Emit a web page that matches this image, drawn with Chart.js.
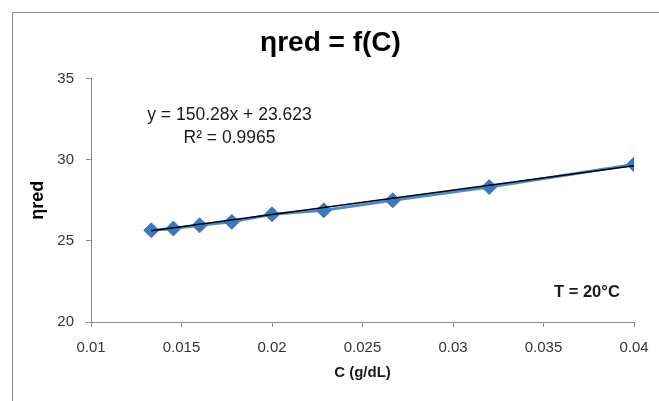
<!DOCTYPE html>
<html lang="en">
<head>
    <meta charset="UTF-8">
    <title>ηred = f(C)</title>
    <script src="https://cdn.jsdelivr.net/npm/chart.js"></script>
    <style>
        html, body {
            margin: 0;
            padding: 0;
            background: #ffffff;
            overflow: hidden;
        }
        #frame {
            position: absolute;
            left: 12px;
            top: 12px;
            width: 660px;
            height: 400px;
            border: 1px solid #8c8c8c;
        }
        #wrap {
            position: absolute;
            left: 0;
            top: 0;
            width: 659px;
            height: 401px;
        }
    </style>
</head>
<body>
<div id="frame"></div>
<div id="wrap"><canvas id="chart" width="659" height="401"></canvas></div>

<script>
    // Measured values (concentration in g/dL, reduced viscosity)
    const concentration = [0.01333, 0.01455, 0.016, 0.01778, 0.02, 0.02286, 0.02667, 0.032, 0.04];
    const etaRed = [25.65, 25.76, 25.96, 26.17, 26.64, 26.88, 27.5, 28.32, 29.71];

    // Linear trendline as printed on the chart
    const slope = 150.28;
    const intercept = 23.623;
    const trendX = [0.01333, 0.04];

    const xTicks = [0.01, 0.015, 0.02, 0.025, 0.03, 0.035, 0.04];
    const yTicks = [20, 25, 30, 35];

    const FONT = "'Liberation Sans', sans-serif";

    const points = concentration.map((c, i) => ({ x: c, y: etaRed[i] }));
    const trend = trendX.map(c => ({ x: c, y: slope * c + intercept }));

    // Text boxes drawn on the plot (equation, R², temperature)
    const notes = {
        id: 'notes',
        afterDraw(chart) {
            const ctx = chart.ctx;
            const x = chart.scales.x, y = chart.scales.y;
            ctx.save();
            ctx.fillStyle = '#1a1a1a';
            ctx.textAlign = 'center';
            ctx.textBaseline = 'middle';
            ctx.font = "17.5px " + FONT;
            ctx.fillText('y = 150.28x + 23.623', x.getPixelForValue(0.01765), y.getPixelForValue(32.72));
            ctx.fillText('R² = 0.9965', x.getPixelForValue(0.01765), y.getPixelForValue(31.3));
            ctx.font = "bold 16.5px " + FONT;
            ctx.fillText('T = 20°C', x.getPixelForValue(0.0374), y.getPixelForValue(21.85));
            ctx.restore();
        }
    };

    new Chart(document.getElementById('chart'), {
        type: 'scatter',
        data: {
            datasets: [
                {
                    label: 'trend',
                    data: trend,
                    showLine: true,
                    borderColor: '#000000',
                    borderWidth: 1.6,
                    pointRadius: 0,
                    order: 0
                },
                {
                    label: 'ηred',
                    data: points,
                    showLine: true,
                    borderColor: '#4a8ad0',
                    borderWidth: 3,
                    pointStyle: 'rectRot',
                    pointRadius: 7.5,
                    pointBackgroundColor: '#3b78be',
                    pointBorderColor: '#3b78be',
                    pointBorderWidth: 1,
                    order: 1
                }
            ]
        },
        options: {
            responsive: false,
            animation: false,
            layout: { padding: { top: 0, right: 25, bottom: 19, left: 27 } },
            plugins: {
                legend: { display: false },
                tooltip: { enabled: false },
                title: {
                    display: true,
                    text: 'ηred = f(C)',
                    color: '#000000',
                    font: { family: FONT, size: 28, weight: 'bold' },
                    padding: { top: 26, bottom: 19 }
                }
            },
            scales: {
                x: {
                    type: 'linear',
                    min: 0.01,
                    max: 0.04,
                    afterBuildTicks: s => { s.ticks = xTicks.map(v => ({ value: v })); },
                    afterFit: s => { s.height = 60; s.paddingRight = 0; },
                    ticks: {
                        color: '#333333',
                        font: { family: FONT, size: 15 },
                        padding: 12,
                        maxRotation: 0,
                        callback: v => String(v)
                    },
                    grid: { drawOnChartArea: false, drawTicks: true, tickLength: 5, color: '#8c8c8c' },
                    border: { color: '#8c8c8c', width: 1 },
                    title: {
                        display: true,
                        text: 'C (g/dL)',
                        color: '#1a1a1a',
                        font: { family: FONT, size: 15, weight: 'bold' },
                        padding: { top: 0, bottom: 0 }
                    }
                },
                y: {
                    min: 20,
                    max: 35,
                    afterBuildTicks: s => { s.ticks = yTicks.map(v => ({ value: v })); },
                    afterFit: s => { s.width = 64; },
                    ticks: {
                        color: '#333333',
                        font: { family: FONT, size: 15 },
                        padding: 12
                    },
                    grid: { drawOnChartArea: false, drawTicks: true, tickLength: 5, color: '#8c8c8c' },
                    border: { color: '#8c8c8c', width: 1 },
                    title: {
                        display: true,
                        text: 'ηred',
                        color: '#000000',
                        font: { family: FONT, size: 18, weight: 'bold' },
                        padding: { top: 0, bottom: 0 }
                    }
                }
            }
        },
        plugins: [notes]
    });
</script>
</body>
</html>
